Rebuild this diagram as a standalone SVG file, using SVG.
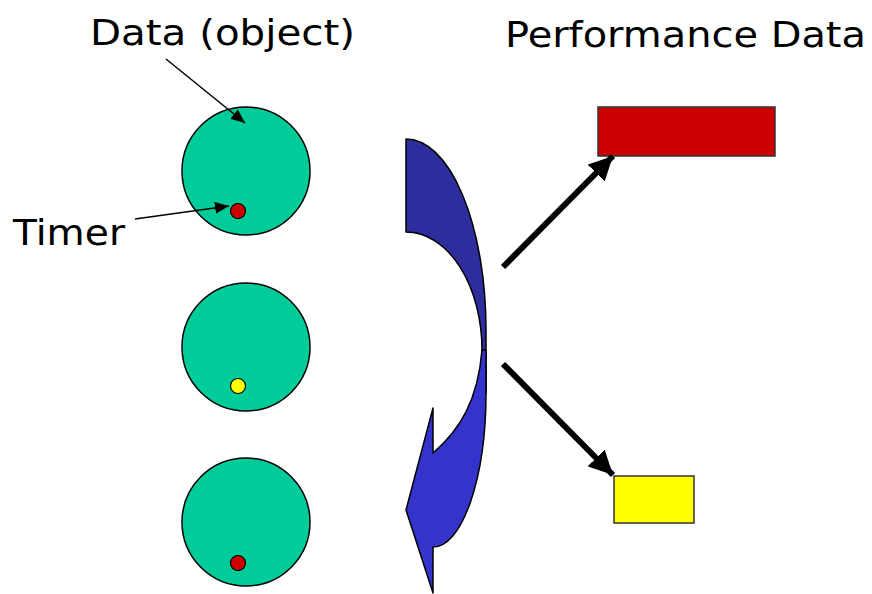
<svg xmlns="http://www.w3.org/2000/svg" width="872" height="594" viewBox="0 0 872 594">
<style>
.lbl{font-family:"DejaVu Sans","Liberation Sans",sans-serif;font-size:35px;fill:#000}
.obj{fill:#00CC99;stroke:#000;stroke-width:1.5}
.dot{stroke:#000;stroke-width:1.2}
.box{stroke:#333;stroke-width:1.5}
.thick{stroke:#000;stroke-width:6;fill:none}
.thin{stroke:#000;stroke-width:1.5;fill:none}
</style>
<defs>
<marker id="big" markerUnits="userSpaceOnUse" viewBox="0 0 24 24" refX="24" refY="12" markerWidth="24" markerHeight="24" orient="auto">
<path d="M0,0 L24,12 L0,24 Z" fill="#000"/>
</marker>
<marker id="small" markerUnits="userSpaceOnUse" viewBox="0 0 14 12" refX="14" refY="6" markerWidth="14" markerHeight="12" orient="auto">
<path d="M0,0 L14,6 L0,12 Z" fill="#000"/>
</marker>
</defs>
<g id="label-data"><text class="lbl" x="90" y="45" textLength="265" lengthAdjust="spacingAndGlyphs">Data (object)</text></g>
<g id="label-timer"><text class="lbl" x="13" y="245" textLength="112" lengthAdjust="spacingAndGlyphs">Timer</text></g>
<g id="label-perf"><text class="lbl" x="505" y="47" textLength="361" lengthAdjust="spacingAndGlyphs">Performance Data</text></g>
<g id="obj1"><circle class="obj" cx="246" cy="171" r="64"/><circle class="dot" cx="238" cy="211" r="7.5" fill="#CC0000"/></g>
<g id="obj2"><circle class="obj" cx="246" cy="347" r="64"/><circle class="dot" cx="238" cy="386" r="7.5" fill="#FFFF00"/></g>
<g id="obj3"><circle class="obj" cx="246" cy="522" r="64"/><circle class="dot" cx="238" cy="563" r="7.5" fill="#CC0000"/></g>
<g id="curved-arrow" stroke="#000" stroke-width="1.5" stroke-linejoin="round">
<path d="M406,139 A80,191 0 0 1 486,330 L486,393 L482,350 A76,118 0 0 0 406,232 Z" fill="#2D2D9E"/>
<path d="M482,350 L486,350 L486,393 A53,154 0 0 1 433,547 L433,593 L406,510 L433,408 L433,453 C460,430 478,400 482,350 Z" fill="#3434CC"/>
</g>
<g id="perf-high"><rect class="box" x="598" y="107" width="177" height="49" fill="#CC0000"/></g>
<g id="perf-low"><rect class="box" x="614" y="476" width="80" height="47" fill="#FFFF00"/></g>
<g id="connectors">
<line class="thick" x1="503" y1="267" x2="613" y2="156" marker-end="url(#big)"/>
<line class="thick" x1="503" y1="364" x2="613" y2="475" marker-end="url(#big)"/>
<line class="thin" x1="166" y1="59" x2="245" y2="123" marker-end="url(#small)"/>
<line class="thin" x1="135" y1="219" x2="229" y2="206" marker-end="url(#small)"/>
</g>
</svg>
